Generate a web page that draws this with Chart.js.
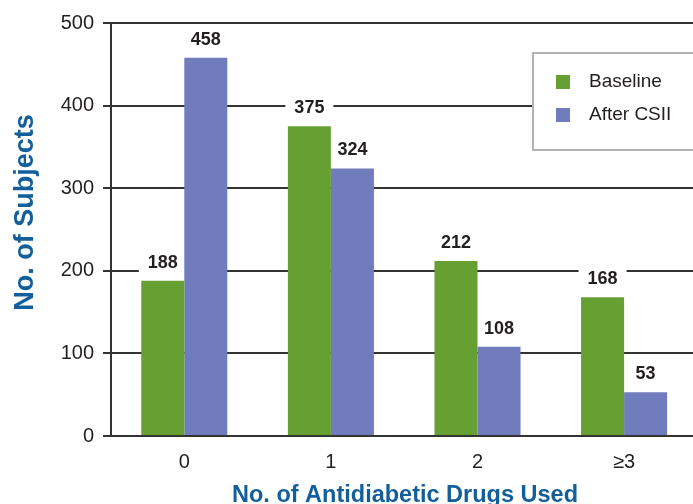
<!DOCTYPE html>
<html>
<head>
<meta charset="utf-8">
<script src="https://cdn.jsdelivr.net/npm/chart.js@4/dist/chart.umd.min.js"></script>
<style>
  html, body { margin: 0; padding: 0; background: #fff; overflow: hidden; }
  #wrap { width: 700px; height: 504px; }
</style>
</head>
<body>
<div id="wrap"><canvas id="c" width="700" height="504"></canvas></div>
<script>
// Number of antidiabetic drugs used, before and after CSII
const categories = ['0', '1', '2', '\u22653'];
const baseline = [188, 375, 212, 168];
const afterCSII = [458, 324, 108, 53];
const seriesNames = ['Baseline', 'After CSII'];
const yTicks = [0, 100, 200, 300, 400, 500];

const GREEN = '#66a033';
const BLUE = '#717cbd';
const INK = '#231f20';
const TITLE_BLUE = '#135f9c';
const FONT = '"Liberation Sans", Arial, Helvetica, sans-serif';

// White label plates go under the bars so they only break the grid lines
const labelPlates = {
  id: 'labelPlates',
  beforeDatasetsDraw(chart) {
    const ctx = chart.ctx;
    ctx.save();
    ctx.font = 'bold 18px ' + FONT;
    chart.data.datasets.forEach((ds, i) => {
      chart.getDatasetMeta(i).data.forEach((bar, j) => {
        const txt = String(ds.data[j]);
        const w = ctx.measureText(txt).width + 18;
        ctx.fillStyle = '#fff';
        ctx.fillRect(bar.x - w / 2, bar.y - 31, w, 23);
      });
    });
    ctx.restore();
  },
  afterDatasetsDraw(chart) {
    const ctx = chart.ctx;
    ctx.save();
    ctx.font = 'bold 18px ' + FONT;
    ctx.fillStyle = INK;
    ctx.textAlign = 'center';
    ctx.textBaseline = 'alphabetic';
    chart.data.datasets.forEach((ds, i) => {
      chart.getDatasetMeta(i).data.forEach((bar, j) => {
        ctx.fillText(String(ds.data[j]), bar.x, bar.y - 13);
      });
    });
    ctx.restore();
  }
};

// Boxed legend and the two axis titles
const frame = {
  id: 'frame',
  afterDraw(chart) {
    const ctx = chart.ctx;
    ctx.save();
    // legend box
    ctx.fillStyle = '#fff';
    ctx.fillRect(533, 53, 200, 97);
    ctx.strokeStyle = '#b3b3b3';
    ctx.lineWidth = 2;
    ctx.strokeRect(533, 53, 200, 97);
    ctx.font = '19px ' + FONT;
    ctx.textBaseline = 'middle';
    ctx.textAlign = 'left';
    chart.data.datasets.forEach((ds, i) => {
      const cy = 82 + i * 33;
      ctx.fillStyle = ds.backgroundColor;
      ctx.fillRect(556, cy - 7, 14, 14);
      ctx.fillStyle = INK;
      ctx.fillText(ds.label, 589, cy);
    });
    // axis titles
    ctx.fillStyle = TITLE_BLUE;
    ctx.font = 'bold 23.5px ' + FONT;
    ctx.textAlign = 'center';
    ctx.textBaseline = 'alphabetic';
    ctx.fillText('No. of Antidiabetic Drugs Used', 405, 502);
    ctx.translate(33, 212.5);
    ctx.rotate(-Math.PI / 2);
    ctx.font = 'bold 27px ' + FONT;
    ctx.fillText('No. of Subjects', 0, 0);
    ctx.restore();
  }
};

new Chart(document.getElementById('c'), {
  type: 'bar',
  data: {
    labels: categories,
    datasets: [
      { label: seriesNames[0], data: baseline, backgroundColor: GREEN },
      { label: seriesNames[1], data: afterCSII, backgroundColor: BLUE }
    ]
  },
  options: {
    responsive: false,
    animation: false,
    devicePixelRatio: 1,
    layout: { padding: { top: 23, right: 2.6, left: 0, bottom: 0 } },
    datasets: { bar: { barPercentage: 1, categoryPercentage: 0.587, borderWidth: 0 } },
    plugins: { legend: { display: false }, tooltip: { enabled: false } },
    scales: {
      x: {
        grid: { display: false, drawTicks: false },
        border: { display: false },
        ticks: { color: INK, font: { family: FONT, size: 20 }, padding: 14 },
        afterFit(scale) { scale.height = 68; }
      },
      y: {
        min: 0,
        max: 500,
        afterBuildTicks(scale) { scale.ticks = yTicks.map(v => ({ value: v })); },
        grid: { color: '#333', lineWidth: 2, tickLength: 8 },
        border: { display: true, color: '#333', width: 2 },
        ticks: { color: INK, font: { family: FONT, size: 20 }, padding: 9 },
        afterFit(scale) { scale.width = 111; }
      }
    }
  },
  plugins: [labelPlates, frame]
});
</script>
</body>
</html>
